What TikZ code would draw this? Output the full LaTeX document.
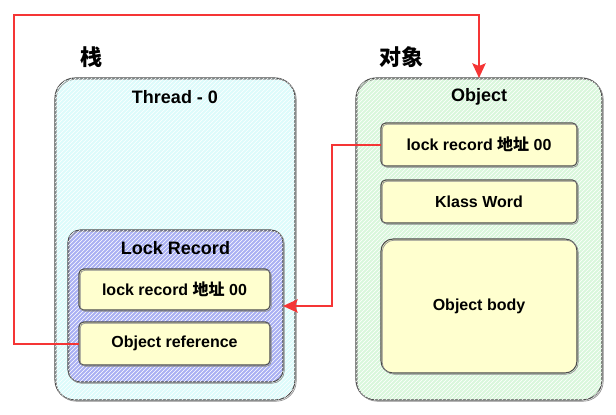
\documentclass[tikz,border=0pt]{standalone}
\usepackage{fontspec}
\setmainfont{Liberation Sans}
\newfontfamily\cjk{Noto Sans CJK SC}
\usetikzlibrary{arrows.meta,patterns}
\definecolor{redc}{HTML}{F53535}
\definecolor{cyanf}{HTML}{DDFBFB}
\definecolor{bluef}{HTML}{A9B0F3}
\definecolor{greenf}{HTML}{D9F7DC}
\definecolor{yellowf}{HTML}{FFFFCF}
\begin{document}
\begin{tikzpicture}[x=0.75pt,y=-0.75pt,
  font=\bfseries\fontsize{12}{14}\selectfont,
  box/.style={draw=black!70, line width=0.8pt, inner sep=0pt, outer sep=0pt,
    postaction={draw=black!45, line width=0.5pt, transform canvas={xshift=0.9pt,yshift=-0.9pt}}},
  hatch/.style={postaction={pattern=north east lines, pattern color=white}},
  outerbox/.style={box, hatch, rounded corners=15pt},
  midbox/.style={box, hatch, rounded corners=9pt},
  cell/.style={box, fill=yellowf, rounded corners=3.5pt},
  bigcell/.style={box, fill=yellowf, rounded corners=9pt},
  boxtitle/.style={font=\bfseries\fontsize{13.5}{16}\selectfont},
  title/.style={font=\bfseries\fontsize{16.5}{18}\selectfont\cjk},
  redline/.style={draw=redc, line width=1.5pt, -{Stealth[length=11pt,width=10pt,inset=2pt]}}
]
\useasboundingbox (0,0) rectangle (616,414);
\fill[white] (0,0) rectangle (616,414);

% left side
\node[outerbox, fill=cyanf, minimum width=180pt, minimum height=241.5pt] (thread) at (175,239) {};
\node[boxtitle] (threadt) at (175,97) {Thread - 0};
\node[midbox, fill=bluef, minimum width=161.25pt, minimum height=114pt] (lockrec) at (175.5,306) {};
\node[boxtitle] (lockrect) at (175.5,248) {Lock Record};
\node[cell, minimum width=143.25pt, minimum height=30.75pt] (lr) at (174.5,289.5) {lock record {\cjk 地址} 00};
\node[cell, minimum width=143.25pt, minimum height=32.25pt] (objref) at (174.5,343.5) {Object reference};
\node[title] (stack) at (91,57) {栈};

% right side
\node[outerbox, fill=greenf, minimum width=184.5pt, minimum height=241.5pt] (obj) at (479,239) {};
\node[boxtitle] (objt) at (479,97) {Object};
\node[cell, minimum width=147pt, minimum height=32.25pt] (olr) at (479,144.5) {lock record {\cjk 地址} 00};
\node[cell, minimum width=147pt, minimum height=32.25pt] (klass) at (479,201.5) {Klass Word};
\node[bigcell, minimum width=147pt, minimum height=100.5pt] (body) at (479,306) {Object body};
\node[title] (objlabel) at (401,57) {对象};

% connectors
\coordinate (topleft) at (14,15);
\draw[redline] (objref.west) -| (topleft) -| (obj.north);
\draw[redline] (olr.west) -- ++(-49,0) |- (lockrec.east);
\end{tikzpicture}
\end{document}
